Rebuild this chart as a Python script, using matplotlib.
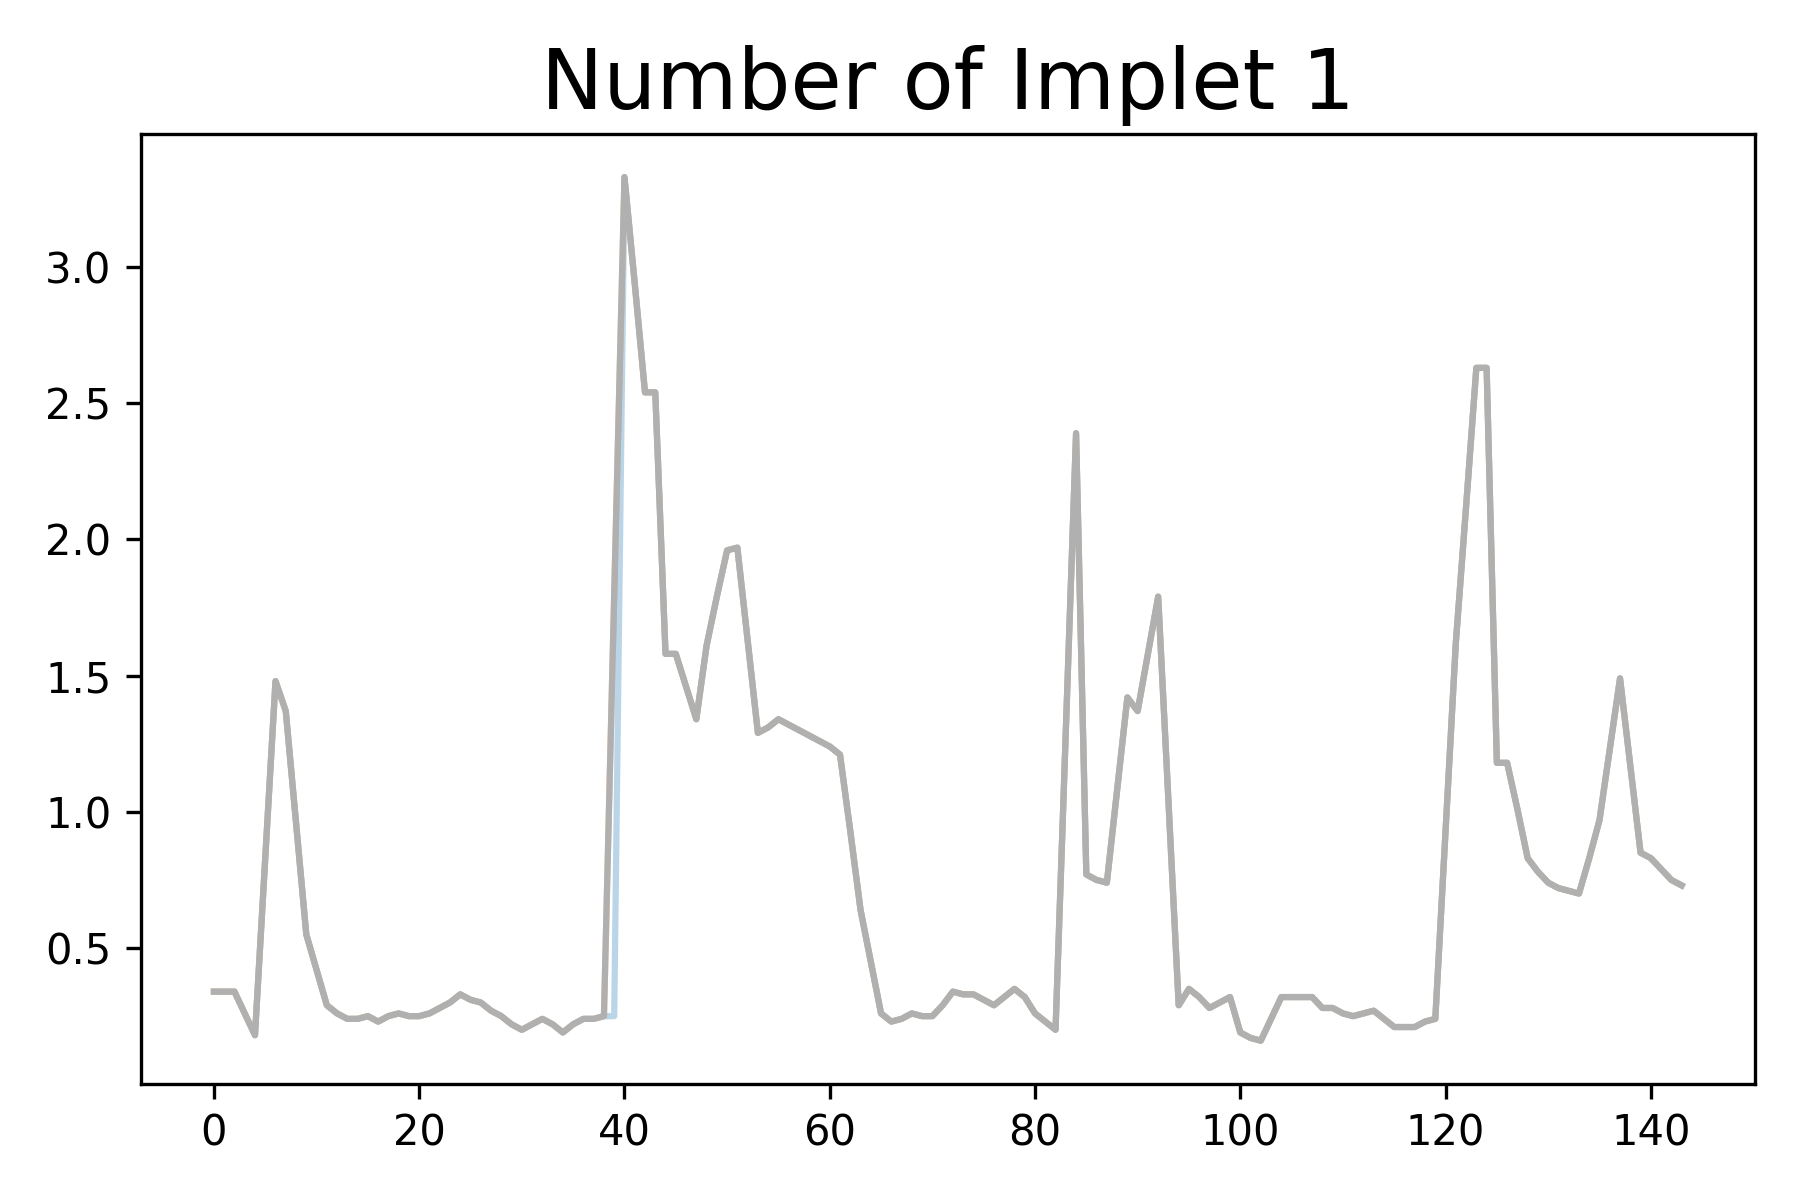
import matplotlib
matplotlib.use("Agg")
import matplotlib.pyplot as plt
import numpy as np

gray_vals = [0.34, 0.34, 0.34, 0.26, 0.18, 0.83, 1.48, 1.37, 0.96, 0.55,
             0.42, 0.29, 0.26, 0.24, 0.24, 0.25, 0.23, 0.25, 0.26, 0.25,
             0.25, 0.26, 0.28, 0.30, 0.33, 0.31, 0.30, 0.27, 0.25, 0.22,
             0.20, 0.22, 0.24, 0.22, 0.19, 0.22, 0.24, 0.24, 0.25, 1.80,
             3.33, 2.94, 2.54, 2.54, 1.58, 1.58, 1.46, 1.34, 1.61, 1.79,
             1.96, 1.97, 1.63, 1.29, 1.31, 1.34, 1.32, 1.30, 1.28, 1.26,
             1.24, 1.21, 0.93, 0.64, 0.45, 0.26, 0.23, 0.24, 0.26, 0.25,
             0.25, 0.29, 0.34, 0.33, 0.33, 0.31, 0.29, 0.32, 0.35, 0.32,
             0.26, 0.23, 0.20, 1.30, 2.39, 0.77, 0.75, 0.74, 1.08, 1.42,
             1.37, 1.58, 1.79, 1.04, 0.29, 0.35, 0.32, 0.28, 0.30, 0.32,
             0.19, 0.17, 0.16, 0.24, 0.32, 0.32, 0.32, 0.32, 0.28, 0.28,
             0.26, 0.25, 0.26, 0.27, 0.24, 0.21, 0.21, 0.21, 0.23, 0.24,
             0.93, 1.62, 2.12, 2.63, 2.63, 1.18, 1.18, 1.01, 0.83, 0.78,
             0.74, 0.72, 0.71, 0.70, 0.83, 0.97, 1.23, 1.49, 1.17, 0.85,
             0.83, 0.79, 0.75, 0.73]
blue_vals = list(gray_vals)
blue_vals[39] = 0.25
orange_vals = list(gray_vals)
orange_vals[39] = 1.80
x = np.arange(len(gray_vals))

fig, ax = plt.subplots(figsize=(6, 4), dpi=300)
ax.plot(x, blue_vals, color="#1f77b4", alpha=0.3)
ax.plot(x, orange_vals, color="#ff7f0e", alpha=0.4)
ax.plot(x, gray_vals, color="#b0b0b0")
ax.set_yticks([0.5, 1.0, 1.5, 2.0, 2.5, 3.0])
ax.set_title("Number of Implet 1", fontsize=20)
fig.tight_layout()
fig.savefig("out.png")
